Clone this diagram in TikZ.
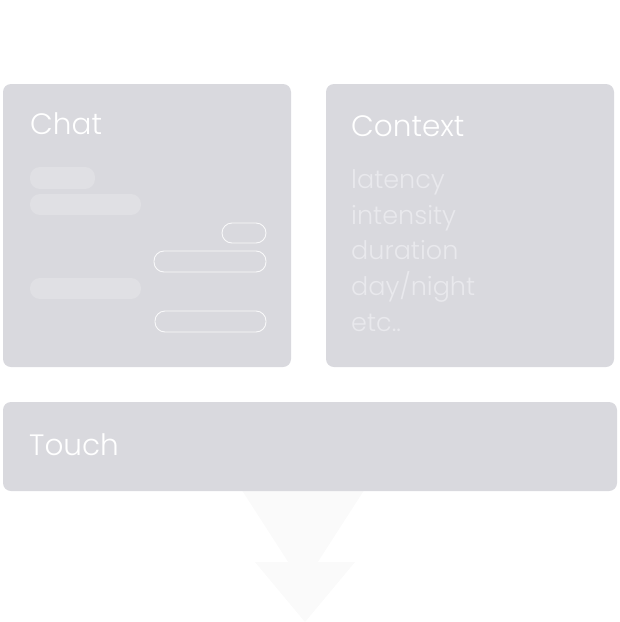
\documentclass[tikz,border=0pt]{standalone}
\usepackage{fontspec}
\setmainfont{Poppins Light}
\definecolor{panelgray}{RGB}{217,217,222}
\definecolor{pillgray}{RGB}{224,224,228}
\definecolor{softtext}{RGB}{233,233,237}
\definecolor{arrowgray}{RGB}{250,250,250}
\begin{document}
\begin{tikzpicture}[x=1pt,y=-1pt,
  panel/.style={fill=panelgray,rounded corners=8pt,inner sep=0pt},
  title/.style={anchor=base west,text=white,inner sep=0pt,font=\fontsize{29.5}{36}\selectfont},
  item/.style={anchor=base west,text=softtext,inner sep=0pt,font=\fontsize{25.5}{30}\selectfont},
  pillfill/.style={fill=pillgray,rounded corners=10pt,inner sep=0pt},
  pillline/.style={draw=white!85!panelgray,line width=0.9pt,rounded corners=10pt,inner sep=0pt}]
  \useasboundingbox (0,0) rectangle (620,622);
  % faint arrow below the touch panel
  \fill[arrowgray](216,450)--(390,450)--(303,585)--cycle;
  \fill[arrowgray](255,562)--(355,562)--(305,622)--cycle;
  % panels
  \node[panel,minimum width=288pt,minimum height=283pt] (chat) at (147,225.5) {};
  \node[panel,minimum width=288pt,minimum height=283pt] (context) at (470,225.5) {};
  \node[panel,minimum width=614pt,minimum height=89pt] (touch) at (310,446.5) {};
  \node[title] (chattitle) at (30,134) {Chat};
  \node[title] (contexttitle) at (351,136) {Context};
  \node[title] (touchtitle) at (29,455) {Touch};
  \node[item] (latency) at (351,188) {latency};
  \node[item] (intensity) at (351,224) {intensity};
  \node[item] (duration) at (351,259) {duration};
  \node[item] (daynight) at (351,295) {day/night};
  \node[item] (etc) at (351,331) {etc..};
  % chat bubbles
  \node[pillfill,minimum width=65pt,minimum height=22pt] (inA) at (62.5,178) {};
  \node[pillfill,minimum width=111pt,minimum height=21pt] (inB) at (85.5,204.5) {};
  \node[pillfill,minimum width=111pt,minimum height=21pt] (inC) at (85.5,288.5) {};
  \node[pillline,minimum width=44pt,minimum height=20pt] (outA) at (244,233) {};
  \node[pillline,minimum width=112pt,minimum height=21pt] (outB) at (210,261.5) {};
  \node[pillline,minimum width=111pt,minimum height=21pt] (outC) at (210.5,321.5) {};
\end{tikzpicture}
\end{document}
